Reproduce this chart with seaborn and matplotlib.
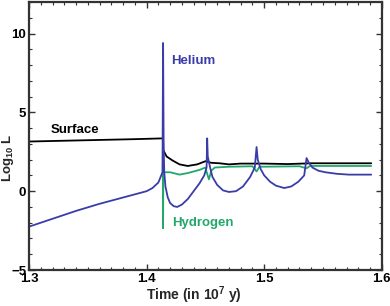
import numpy as np
import pandas as pd
import matplotlib
matplotlib.use("Agg")
import matplotlib.pyplot as plt
import seaborn as sns
from matplotlib.ticker import MultipleLocator

# ------------------------------------------
# Data (time in 10^7 y, log10 luminosity)
# ------------------------------------------

helium_t = [1.300, 1.320, 1.340, 1.360, 1.380, 1.400, 1.405, 1.410, 1.4135, 1.4140,
            1.4145, 1.4150, 1.416, 1.418, 1.420, 1.423, 1.426, 1.430, 1.435, 1.440,
            1.445, 1.449, 1.451, 1.4515, 1.452, 1.454, 1.456, 1.460, 1.465, 1.470,
            1.476, 1.482, 1.488, 1.492, 1.4935, 1.4945, 1.497, 1.500, 1.505, 1.510,
            1.517, 1.523, 1.529, 1.534, 1.536, 1.538, 1.541, 1.546, 1.552, 1.562,
            1.572, 1.591]
helium_L = [-2.25, -1.75, -1.25, -0.8, -0.4, 0.0, 0.2, 0.55, 1.2, 9.4,
            2.8, 1.2, 0.3, -0.4, -0.75, -0.95, -1.0, -0.85, -0.5, 0.0,
            0.5, 1.0, 1.5, 3.35, 2.2, 1.5, 0.9, 0.4, 0.05, -0.05,
            0.0, 0.3, 0.9, 1.5, 2.8, 2.0, 1.4, 1.0, 0.6, 0.35,
            0.2, 0.3, 0.6, 1.0, 2.1, 1.8, 1.5, 1.3, 1.2, 1.1,
            1.05, 1.05]

surface_t = [1.300, 1.330, 1.360, 1.390, 1.4140, 1.4142, 1.417, 1.422, 1.428, 1.435,
             1.443, 1.450, 1.455, 1.462, 1.470, 1.480, 1.490, 1.500, 1.520, 1.540,
             1.591]
surface_L = [3.15, 3.2, 3.25, 3.3, 3.35, 2.6, 2.2, 1.95, 1.7, 1.6,
             1.7, 1.9, 1.8, 1.77, 1.7, 1.75, 1.75, 1.75, 1.72, 1.77,
             1.77]

hydrogen_t = [1.4138, 1.4140, 1.4142, 1.420, 1.428, 1.435, 1.445, 1.450, 1.4515, 1.453,
              1.455, 1.458, 1.470, 1.490, 1.4935, 1.496, 1.530, 1.536, 1.539, 1.591]
hydrogen_L = [1.3, -2.35, 1.2, 1.2, 1.05, 1.15, 1.35, 1.5, 1.1, 0.75,
              1.3, 1.5, 1.55, 1.58, 1.25, 1.55, 1.58, 1.45, 1.6, 1.6]

blue = "#3a3ca8"
green = "#22a86a"

# ------------------------------------------
# Style
# ------------------------------------------

sns.set_style("ticks")
plt.rcParams["font.family"] = ["Liberation Sans", "DejaVu Sans"]
plt.rcParams["font.weight"] = "bold"
plt.rcParams["mathtext.fontset"] = "custom"
plt.rcParams["mathtext.rm"] = "Liberation Sans:bold"
plt.rcParams["mathtext.bf"] = "Liberation Sans:bold"
plt.rcParams["mathtext.default"] = "rm"

fig = plt.figure(figsize=(3.9, 3.06), dpi=100)
ax = fig.add_axes([0.0744, 0.1176, 0.9046, 0.8759])

# ------------------------------------------
# Lines
# ------------------------------------------

sns.lineplot(x=hydrogen_t, y=hydrogen_L, sort=False, estimator=None, color=green, lw=1.3, ax=ax)
sns.lineplot(x=surface_t, y=surface_L, sort=False, estimator=None, color="black", lw=1.3, ax=ax)
sns.lineplot(x=helium_t, y=helium_L, sort=False, estimator=None, color=blue, lw=1.3, ax=ax)

ax.text(1.318, 3.9, "Surface", color="black", fontsize=9.5, fontweight="bold", va="center")
ax.text(1.4206, 8.23, "Helium", color=blue, fontsize=9.5, fontweight="bold", va="center")
ax.text(1.4215, -2.0, "Hydrogen", color=green, fontsize=9.5, fontweight="bold", va="center")

# ------------------------------------------
# Axes
# ------------------------------------------

ax.set_xlim(1.3, 1.6)
ax.set_ylim(-5, 12)
ax.set_xticks([1.3, 1.4, 1.5, 1.6])
ax.set_xticklabels(["1.3", "1.4", "1.5", "1.6"])
ax.set_yticks([-5, 0, 5, 10])
ax.xaxis.set_minor_locator(MultipleLocator(0.01))
ax.yaxis.set_minor_locator(MultipleLocator(1))
ax.tick_params(which="both", direction="in", top=True, right=True, colors="#333333", labelcolor="black")
ax.tick_params(which="major", length=4, width=1, labelsize=9.5, pad=2)
ax.tick_params(which="minor", length=2, width=0.8)
for s in ax.spines.values():
    s.set_linewidth(1.6)
    s.set_color("#333333")

ax.set_xlabel("Time (in 10$^{7}$ y)", fontsize=10, fontweight="bold")
ax.set_ylabel("Log$_{10}$ L", fontsize=9.5, fontweight="bold")
ax.xaxis.set_label_coords(0.467, -0.055)
ax.yaxis.set_label_coords(-0.037, 0.418)

plt.savefig("out.png", dpi=100)
